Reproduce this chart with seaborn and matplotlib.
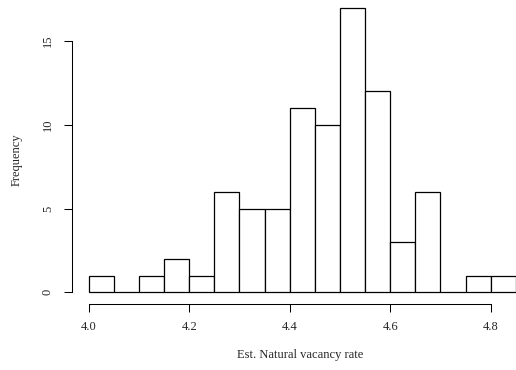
import matplotlib
matplotlib.use("Agg")
import matplotlib.pyplot as plt
import seaborn as sns
import numpy as np

# Data
bin_edges = [4.00, 4.05, 4.10, 4.15, 4.20, 4.25, 4.30, 4.35, 4.40, 4.45,
             4.50, 4.55, 4.60, 4.65, 4.70, 4.75, 4.80, 4.85]
counts = [1, 0, 1, 2, 1, 6, 5, 5, 11, 10, 17, 12, 3, 6, 0, 1, 1]
x_ticks = [4.0, 4.2, 4.4, 4.6, 4.8]
y_ticks = [0, 5, 10, 15]

sns.set_style("white")
plt.rcParams['font.family'] = ['Liberation Serif', 'DejaVu Serif']

fig = plt.figure(figsize=(5.16, 3.70), dpi=100)
W, H = 516, 370
left_px, right_px = 71.6, 532.9
bottom_px, top_px = 303.7, -3.8
ax = fig.add_axes([left_px / W, (H - bottom_px) / H,
                   (right_px - left_px) / W, (bottom_px - top_px) / H])

centers = [(bin_edges[i] + bin_edges[i + 1]) / 2 for i in range(len(counts))]
sns.histplot(x=centers, weights=counts, bins=bin_edges, ax=ax,
             color="white", edgecolor="black", linewidth=0.9, alpha=1.0)

ax.set_xlim(3.966, 4.884)
ax.set_ylim(-0.68, 17.68)

for s in ["top", "right"]:
    ax.spines[s].set_visible(False)
ax.spines["left"].set_bounds(0, 15)
ax.spines["bottom"].set_bounds(4.0, 4.8)
for s in ["left", "bottom"]:
    ax.spines[s].set_color("black")
    ax.spines[s].set_linewidth(0.75)

ax.set_xticks(x_ticks)
ax.set_xticklabels([f"{v:.1f}" for v in x_ticks])
ax.set_yticks(y_ticks)
ax.set_yticklabels([str(v) for v in y_ticks], rotation=90, va="center")
ax.tick_params(axis="both", direction="out", length=5.8, width=0.75,
               color="black", labelsize=9, bottom=True, left=True)
ax.tick_params(axis="x", pad=7)
ax.tick_params(axis="y", pad=7)

ax.set_xlabel("")
ax.set_ylabel("")
fig.text(300.5 / W, 1 - 355 / H, "Est. Natural vacancy rate", ha="center",
         va="center", fontsize=9)
fig.text(17 / W, 1 - 160 / H, "Frequency", ha="center", va="center",
         rotation=90, fontsize=9)

fig.savefig("out.png", dpi=100, facecolor="white")
